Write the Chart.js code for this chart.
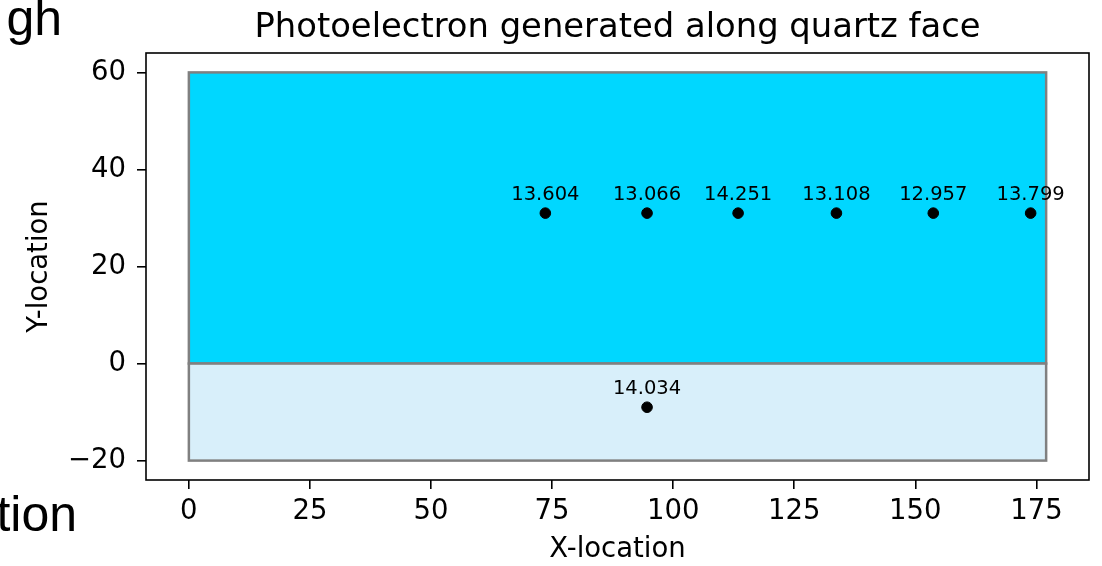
<!DOCTYPE html>
<html>
<head>
<meta charset="utf-8">
<script src="https://cdn.jsdelivr.net/npm/chart.js@4.4.1/dist/chart.umd.min.js"></script>
<style>
  html, body { margin: 0; padding: 0; background: #fff; }
  #wrap { position: relative; width: 1102px; height: 566px; }
</style>
</head>
<body>
<div id="wrap"><canvas id="chart" width="1102" height="566"></canvas></div>
<script>
/* ---------- DATA ---------- */
const pointX      = [73.6, 94.6, 113.4, 133.7, 153.7, 173.8, 94.6];
const pointY      = [31, 31, 31, 31, 31, 31, -9];
const pointLabels = ["13.604", "13.066", "14.251", "13.108", "12.957", "13.799", "14.034"];

// quartz regions (x from, x to, y from, y to)
const quartzX     = [0, 177];
const upperY      = [0, 60];
const lowerY      = [-20, 0];

const xTicks = [0, 25, 50, 75, 100, 125, 150, 175];
const yTicks = [-20, 0, 20, 40, 60];

const titleText = "Photoelectron generated along quartz face";

/* ---------- PLUGIN: regions, frame, labels, title ---------- */
const decor = {
  id: "decor",
  beforeDatasetsDraw(c) {
    const {ctx, scales: {x, y}} = c;
    const rect = (ys, fill) => {
      const x0 = x.getPixelForValue(quartzX[0]), x1 = x.getPixelForValue(quartzX[1]);
      const y0 = y.getPixelForValue(ys[1]), y1 = y.getPixelForValue(ys[0]);
      ctx.fillStyle = fill;
      ctx.fillRect(x0, y0, x1 - x0, y1 - y0);
      ctx.strokeStyle = "#808080";
      ctx.lineWidth = 2.5;
      ctx.strokeRect(x0, y0, x1 - x0, y1 - y0);
    };
    ctx.save();
    rect(upperY, "#00d7ff");
    rect(lowerY, "#d8effa");
    ctx.restore();
  },
  afterDatasetsDraw(c) {
    const {ctx, scales: {x, y}, chartArea: a} = c;
    ctx.save();
    // point labels
    ctx.fillStyle = "#000";
    ctx.font = "19.5px 'DejaVu Sans'";
    ctx.textAlign = "center";
    ctx.textBaseline = "alphabetic";
    pointX.forEach((v, i) => {
      ctx.fillText(pointLabels[i], x.getPixelForValue(v), y.getPixelForValue(pointY[i]) - 13);
    });
    // axes frame
    ctx.strokeStyle = "#000";
    ctx.lineWidth = 1.6;
    ctx.strokeRect(a.left, a.top, a.right - a.left, a.bottom - a.top);
    // title
    ctx.font = "33.8px 'DejaVu Sans'";
    ctx.fillText(titleText, (a.left + a.right) / 2, 37);
    // slide leftovers
    ctx.font = "50px 'Liberation Sans'";
    ctx.textAlign = "right";
    ctx.fillText("gh", 62, 35);
    ctx.fillText("tion", 77, 531);
    ctx.restore();
  }
};

/* ---------- CHART ---------- */
const tickFont = { family: "DejaVu Sans", size: 27.5 };
const labelFont = { family: "DejaVu Sans", size: 27.5 };

new Chart(document.getElementById("chart"), {
  type: "scatter",
  data: {
    datasets: [{
      data: pointX.map((v, i) => ({ x: v, y: pointY[i] })),
      backgroundColor: "#000",
      borderColor: "#000",
      pointRadius: 5.3,
      pointHoverRadius: 5.3
    }]
  },
  options: {
    responsive: false,
    animation: false,
    events: [],
    layout: { padding: { top: 53, right: 13, left: 0, bottom: 0 } },
    plugins: { legend: { display: false }, tooltip: { enabled: false } },
    scales: {
      x: {
        type: "linear",
        min: -8.85,
        max: 185.85,
        afterBuildTicks: s => { s.ticks = xTicks.map(v => ({ value: v })); },
        afterFit: s => { s.height = 86; },
        border: { display: false },
        grid: { drawOnChartArea: false, drawTicks: true, tickLength: 9, color: "#000", lineWidth: 1.6 },
        ticks: { color: "#000", font: tickFont, padding: 6, maxRotation: 0 },
        title: { display: true, text: "X-location", color: "#000", font: labelFont, padding: 0 }
      },
      y: {
        type: "linear",
        min: -24,
        max: 64,
        afterBuildTicks: s => { s.ticks = yTicks.map(v => ({ value: v })); },
        afterFit: s => { s.width = 146; },
        border: { display: false },
        grid: { drawOnChartArea: false, drawTicks: true, tickLength: 9, color: "#000", lineWidth: 1.6 },
        ticks: {
          color: "#000", font: tickFont, padding: 11,
          callback: v => (v < 0 ? "\u2212" + Math.abs(v) : String(v))
        },
        title: { display: true, text: "Y-location", color: "#000", font: labelFont, padding: { top: 23, bottom: 0 } }
      }
    }
  },
  plugins: [decor]
});
</script>
</body>
</html>
